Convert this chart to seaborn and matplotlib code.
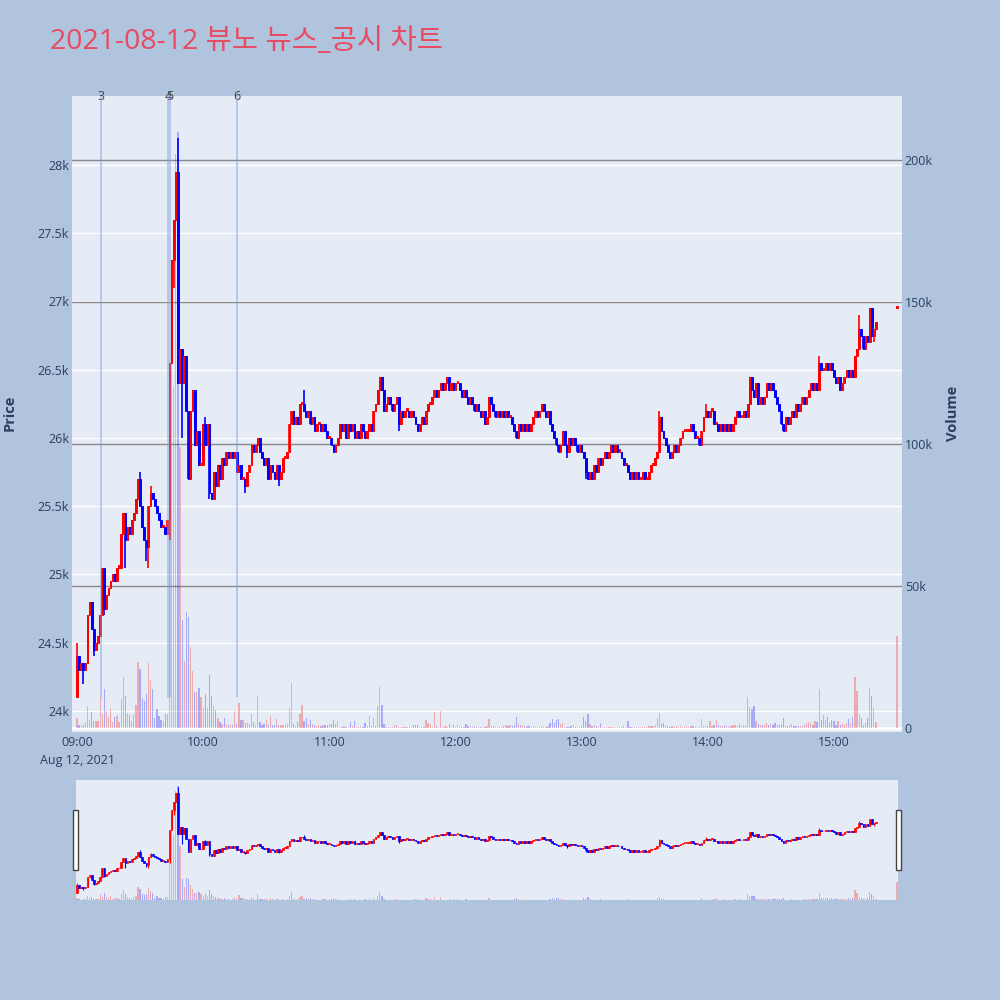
import pandas as pd
import matplotlib
matplotlib.use('Agg')
import matplotlib.pyplot as plt
import matplotlib.transforms as mtransforms
from matplotlib.patches import Rectangle
import seaborn as sns

title = '2021-08-12 뷰노 뉴스_공시 차트'

# 1-minute closes, 09:00 .. 15:20 (open of each bar = previous close)
first_open = 24100
closes = [
    24400, 24300, 24350, 24300, 24350, 24700, 24800, 24600, 24450, 24500,
    24550, 24700, 25050, 24750, 24850, 24900, 24950, 25000, 24950, 25050,
    25050, 25300, 25450, 25250, 25350, 25300, 25400, 25450, 25550, 25700,
    25500, 25350, 25250, 25200, 25500, 25600, 25550, 25500, 25450, 25400,
    25350, 25350, 25300, 25400, 26550, 27300, 27600, 27950, 26400, 26650,
    26400, 26600, 26200, 25700, 26200, 26350, 25950, 26050, 25800, 25800,
    26100, 25950, 26100, 25600, 25550, 25750, 25650, 25800, 25700, 25850,
    25800, 25900, 25850, 25900, 25850, 25900, 25750, 25800, 25700, 25700,
    25650, 25750, 25800, 25950, 25900, 25950, 26000, 25900, 25850, 25800,
    25850, 25700, 25800, 25750, 25700, 25800, 25700, 25750, 25850, 25850,
    25900, 26100, 26200, 26100, 26150, 26100, 26250, 26250, 26200, 26150,
    26200, 26100, 26150, 26050, 26100, 26100, 26050, 26100, 26050, 26000,
    26000, 25950, 25900, 25950, 26000, 26100, 26050, 26100, 26000, 26100,
    26050, 26100, 26000, 26050, 26000, 26100, 26050, 26000, 26050, 26100,
    26050, 26200, 26250, 26350, 26450, 26350, 26200, 26250, 26300, 26250,
    26200, 26250, 26300, 26100, 26200, 26150, 26200, 26200, 26150, 26200,
    26150, 26100, 26050, 26100, 26150, 26100, 26200, 26250, 26250, 26300,
    26350, 26300, 26350, 26400, 26350, 26400, 26450, 26350, 26400, 26350,
    26400, 26400, 26350, 26300, 26350, 26300, 26250, 26300, 26250, 26200,
    26250, 26200, 26150, 26200, 26100, 26150, 26300, 26250, 26200, 26150,
    26200, 26150, 26200, 26150, 26200, 26150, 26150, 26100, 26050, 26000,
    26100, 26050, 26100, 26050, 26100, 26050, 26100, 26150, 26200, 26150,
    26200, 26250, 26200, 26150, 26200, 26100, 26050, 26000, 25950, 25900,
    25950, 26050, 25950, 25900, 26000, 25950, 26000, 25950, 25900, 25950,
    25900, 25850, 25750, 25700, 25750, 25700, 25800, 25750, 25850, 25800,
    25850, 25900, 25850, 25900, 25950, 25900, 25950, 25900, 25900, 25850,
    25800, 25800, 25750, 25700, 25750, 25700, 25750, 25700, 25700, 25750,
    25700, 25700, 25750, 25800, 25800, 25850, 25900, 26150, 26050, 26000,
    25950, 25900, 25850, 25900, 25950, 25900, 25950, 26000, 26050, 26050,
    26050, 26050, 26100, 26050, 26000, 26000, 25950, 26050, 26150, 26200,
    26150, 26200, 26200, 26100, 26100, 26050, 26100, 26050, 26100, 26050,
    26100, 26050, 26100, 26150, 26200, 26150, 26150, 26200, 26150, 26250,
    26450, 26350, 26300, 26400, 26250, 26300, 26250, 26300, 26400, 26350,
    26400, 26350, 26300, 26250, 26200, 26100, 26050, 26150, 26100, 26150,
    26200, 26150, 26250, 26200, 26250, 26300, 26250, 26300, 26350, 26400,
    26350, 26400, 26350, 26550, 26500, 26500, 26550, 26500, 26550, 26500,
    26450, 26400, 26450, 26350, 26400, 26450, 26500, 26450, 26500, 26450,
    26600, 26650, 26800, 26750, 26650, 26750, 26700, 26950, 26750, 26800,
    26850,
]
volumes = [
    3400, 1000, 900, 1100, 2200, 7700, 2800, 5500, 2500, 2500,
    2300, 10800, 4800, 13600, 6000, 4000, 6700, 2200, 4000, 4200,
    2000, 10200, 18000, 11300, 5200, 4600, 2500, 4800, 8100, 23400,
    20800, 10700, 9600, 12000, 23000, 17000, 13700, 3600, 6700, 4200,
    2800, 2600, 4800, 4800, 75000, 155000, 120000, 202000, 210000, 99000,
    38000, 23600, 41000, 39000, 28500, 20000, 12700, 12700, 14000, 11000,
    7000, 11900, 7000, 18500, 11300, 7700, 6300, 3500, 2000, 1500,
    3400, 1400, 1000, 900, 1200, 6000, 1500, 8700, 3000, 3000,
    1600, 1600, 1500, 4800, 2000, 900, 11300, 2200, 1200, 1500,
    2800, 900, 4200, 1000, 900, 3300, 1000, 900, 1000, 900,
    1500, 6900, 15700, 1500, 700, 2200, 4800, 8000, 2500, 3600,
    1500, 3000, 1500, 1000, 700, 900, 800, 1000, 1100, 900,
    1500, 1300, 2800, 1500, 2500, 500, 500, 600, 500, 500,
    2200, 600, 2500, 500, 400, 600, 500, 1800, 600, 4300,
    800, 3600, 800, 7700, 14600, 8100, 1500, 500, 400, 500,
    400, 1000, 1000, 300, 200, 300, 300, 300, 200, 300,
    1000, 1000, 1000, 300, 400, 500, 2800, 1800, 1500, 400,
    5500, 700, 400, 6000, 500, 700, 400, 1300, 400, 1000,
    400, 1200, 400, 300, 500, 1500, 700, 800, 500, 600,
    400, 500, 300, 400, 500, 600, 3200, 700, 600, 400,
    300, 300, 400, 700, 900, 800, 900, 700, 1000, 3800,
    1300, 900, 1200, 700, 800, 600, 500, 800, 400, 500,
    400, 600, 500, 400, 600, 1900, 3200, 1800, 2800, 3200,
    1500, 1800, 500, 400, 300, 700, 1100, 500, 400, 300,
    800, 3800, 2300, 4800, 1300, 600, 900, 700, 500, 1800,
    400, 300, 300, 200, 300, 200, 400, 300, 200, 300,
    600, 300, 2500, 500, 300, 400, 300, 500, 200, 300,
    300, 500, 600, 800, 700, 900, 3600, 5200, 1500, 1700,
    600, 700, 500, 600, 500, 700, 500, 600, 500, 400,
    600, 500, 700, 600, 500, 400, 500, 3200, 700, 600,
    800, 2600, 700, 1200, 2800, 900, 600, 800, 1000, 700,
    800, 600, 900, 1200, 800, 1500, 700, 900, 800, 10900,
    7500, 6600, 7700, 2500, 1500, 1000, 1000, 1000, 1800, 1200,
    1500, 1000, 1600, 1200, 1000, 1300, 3400, 800, 700, 900,
    1500, 800, 800, 700, 600, 800, 1200, 1800, 2000, 1900,
    1200, 2300, 2000, 13600, 2800, 4600, 3000, 4000, 2000, 3000,
    2500, 1200, 2600, 1000, 1500, 1200, 1600, 3300, 1800, 4000,
    17800, 13100, 5000, 3600, 1000, 1800, 3400, 14200, 11300, 6900,
    2000,
]
close_1530 = 26950
volume_1530 = 32500

# wicks beyond the bodies (minute index -> price)
wick_high = {0: 24500, 30: 25750, 35: 25650, 48: 28200, 61: 26150, 108: 26350,
             144: 26450, 196: 26300, 277: 26200, 299: 26250, 320: 26450,
             353: 26600, 372: 26900, 377: 26950}
wick_low = {3: 24200, 8: 24400, 13: 24700, 23: 25050, 33: 25100, 34: 25050,
            44: 25250, 46: 27100, 50: 26000, 56: 25950, 63: 25550, 80: 25600,
            96: 25650, 153: 26050, 233: 25850, 242: 25700, 379: 26700}

news_labels = ['3', '4', '5', '6']
news_times = ['09:11:20', '09:43:30', '09:44:10', '10:16:10']

price_ticks = [24000, 24500, 25000, 25500, 26000, 26500, 27000, 27500, 28000]
volume_ticks = [0, 50000, 100000, 150000, 200000]
hour_labels = ['09:00', '10:00', '11:00', '12:00', '13:00', '14:00', '15:00']

# ---- build table ----
day = pd.Timestamp('2021-08-12 09:00')
times = list(pd.date_range(day, periods=len(closes), freq='min')) + [pd.Timestamp('2021-08-12 15:30')]
df = pd.DataFrame({'time': times,
                   'open': [first_open] + closes[:-1] + [close_1530],
                   'close': closes + [close_1530],
                   'volume': volumes + [volume_1530]})
df['m'] = (df['time'] - day).dt.total_seconds() / 60
df['high'] = df[['open', 'close']].max(axis=1)
df['low'] = df[['open', 'close']].min(axis=1)
for k, v in wick_high.items():
    df.loc[k, 'high'] = max(df.loc[k, 'high'], v)
for k, v in wick_low.items():
    df.loc[k, 'low'] = min(df.loc[k, 'low'], v)
df['color'] = ['#FF0000' if c >= o else '#0000FF' for o, c in zip(df['open'], df['close'])]

sns.set_theme(style='white')
plt.rcParams['font.family'] = ['Open Sans', 'Noto Sans CJK KR', 'DejaVu Sans']

BG = '#B0C4DE'
PLOT_BG = '#E5ECF6'
TXT = '#2a3f5f'

fig = plt.figure(figsize=(10, 10), dpi=100, facecolor=BG)


def draw(axp, axv, body_w, body_lw, wick_lw, vol_w):
    body_h = (df['close'] - df['open']).abs().clip(lower=16)
    body_b = df[['open', 'close']].min(axis=1)
    axv.bar(df['m'], df['volume'], width=vol_w, color=df['color'], alpha=0.28, linewidth=0, zorder=1)
    axp.vlines(df['m'], df['low'], df['high'], colors=df['color'], lw=wick_lw, zorder=2)
    axp.bar(df['m'], body_h, bottom=body_b, width=body_w, color=df['color'],
            edgecolor=df['color'], linewidth=body_lw, zorder=3)


# main chart (base axes = volume on the right, twin = price on the left)
ax2 = fig.add_axes([0.072, 0.268, 0.83, 0.636])
ax = ax2.twinx()
ax2.yaxis.tick_right()
ax.yaxis.tick_left()
ax2.set_zorder(0)
ax.set_zorder(1)
ax.patch.set_visible(False)
ax2.set_facecolor(PLOT_BG)

xlim = (-2.38, 392.38)
ax.set_xlim(*xlim)
ax2.set_xlim(*xlim)
ax.set_ylim(23846, 28505)
ax2.set_ylim(-1400, 222500)

# gridlines (behind traces)
blend = mtransforms.blended_transform_factory(ax2.transAxes, ax.transData)
for p in price_ticks:
    ax2.plot([0, 1], [p, p], transform=blend, color='white', lw=1, zorder=0.5)
ax2.axhline(0, color='white', lw=2, zorder=0.5)
for v in volume_ticks[1:]:
    ax2.axhline(v, color='#8a8a8a', lw=1, zorder=0.6)

draw(ax, ax2, 0.8, 0.7, 1.2, 0.6)

# news markers
for lab, t in zip(news_labels, news_times):
    xm = (pd.Timestamp('2021-08-12 ' + t) - day).total_seconds() / 60
    ax.axvline(xm, ymin=0.055, ymax=1, color='#7f9be0', alpha=0.5, lw=1.3, zorder=4)
    ax.text(xm, 1.0, lab, transform=mtransforms.blended_transform_factory(ax.transData, ax.transAxes),
            ha='center', va='center', fontsize=9, color='#444444')

ax.set_yticks(price_ticks)
ax.set_yticklabels([f'{p / 1000:g}k' for p in price_ticks])
ax2.set_yticks(volume_ticks)
ax2.set_yticklabels(['0'] + [f'{int(v / 1000)}k' for v in volume_ticks[1:]])
xt = [i * 60 for i in range(len(hour_labels))]
ax2.set_xticks(xt)
ax2.set_xticklabels([hour_labels[0] + '\nAug 12, 2021'] + hour_labels[1:], linespacing=1.45)
for a in (ax, ax2):
    a.tick_params(length=0, labelsize=9, colors=TXT, pad=2)
    for s in a.spines.values():
        s.set_visible(False)
    a.grid(False)
ax2.tick_params(axis='x', pad=3)

fig.text(0.010, 0.587, 'Price', rotation=90, ha='center', va='center', fontsize=10.5,
         fontweight='bold', color=TXT)
fig.text(0.953, 0.587, 'Volume', rotation=90, ha='center', va='center', fontsize=10.5,
         fontweight='bold', color=TXT)
fig.text(0.050, 0.958, title, ha='left', va='center', fontsize=20.5, color='#E84A62')

# range slider
sv = fig.add_axes([0.076, 0.100, 0.822, 0.120])
sp = sv.twinx()
sv.set_zorder(0)
sp.set_zorder(1)
sp.patch.set_visible(False)
sv.set_facecolor(PLOT_BG)
sv.set_xlim(-0.48, 390.48)
sp.set_xlim(-0.48, 390.48)
sp.set_ylim(23829, 28470)
sv.set_ylim(0, 222000)
draw(sp, sv, 0.8, 0.5, 0.8, 0.6)
for a in (sv, sp):
    a.set_xticks([])
    a.set_yticks([])
    for s in a.spines.values():
        s.set_visible(False)
for x0 in (0.073, 0.896):
    fig.patches.append(Rectangle((x0, 0.130), 0.005, 0.060, transform=fig.transFigure,
                                 facecolor='white', edgecolor='#444444', lw=1, zorder=5))

fig.savefig('out.png', dpi=100, facecolor=BG)
